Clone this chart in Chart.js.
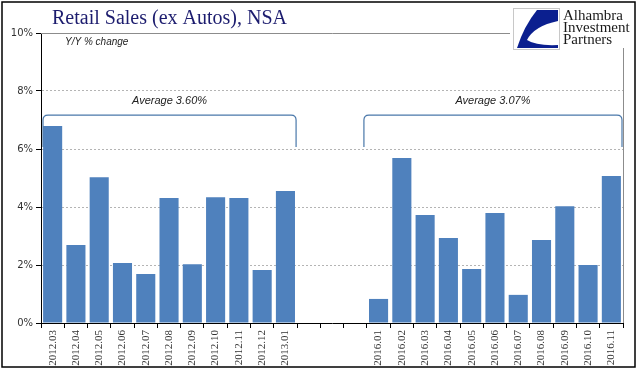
<!DOCTYPE html>
<html lang="en">
<head>
    <meta charset="UTF-8">
    <title>Retail Sales (ex Autos), NSA</title>
    <script src="https://cdn.jsdelivr.net/npm/chart.js"></script>
    <style>
        body { margin: 0; background: #fff; }
    </style>
</head>
<body>
    <canvas id="chart" width="641" height="375"></canvas>

    <script>
        const months = [
            "2012.03", "2012.04", "2012.05", "2012.06", "2012.07", "2012.08",
            "2012.09", "2012.10", "2012.11", "2012.12", "2013.01",
            "", "", "",
            "2016.01", "2016.02", "2016.03", "2016.04", "2016.05", "2016.06",
            "2016.07", "2016.08", "2016.09", "2016.10", "2016.11"
        ];
        const yoyChange = [
            6.79, 2.69, 5.03, 2.07, 1.69, 4.31, 2.03, 4.34, 4.31, 1.83, 4.55,
            null, null, null,
            0.83, 5.69, 3.72, 2.93, 1.86, 3.79, 0.97, 2.86, 4.03, 2.00, 5.07
        ];
        const yTicks = [0, 2, 4, 6, 8, 10];
        const averages = [
            { from: 0, to: 10, text: "Average 3.60%" },
            { from: 14, to: 24, text: "Average 3.07%" }
        ];

        // title, braces, logo and frame
        const decorations = {
            id: "decorations",
            afterDraw(chart) {
                const ctx = chart.ctx;
                const area = chart.chartArea;
                const x = chart.scales.x;
                const y = chart.scales.y;
                const half = (x.getPixelForValue(1) - x.getPixelForValue(0)) / 2;

                ctx.save();

                // plot frame top/right
                ctx.strokeStyle = "#8c8c8c";
                ctx.lineWidth = 1;
                ctx.beginPath();
                ctx.moveTo(area.left, area.top + 0.5);
                ctx.lineTo(area.right + 0.5, area.top + 0.5);
                ctx.lineTo(area.right + 0.5, area.bottom);
                ctx.stroke();

                // title
                ctx.fillStyle = "#1c1c6e";
                ctx.font = "20px 'Liberation Serif'";
                ctx.textBaseline = "alphabetic";
                ctx.textAlign = "left";
                ctx.fillText("Retail Sales (ex Autos), NSA", 52, 24);

                ctx.fillStyle = "#222";
                ctx.font = "italic 10px 'Liberation Sans'";
                ctx.fillText("Y/Y % change", 65, 45);

                // average braces
                ctx.strokeStyle = "#4a78aa";
                ctx.lineWidth = 1.2;
                const yTop = y.getPixelForValue(7.17);
                const yBot = y.getPixelForValue(6.07);
                averages.forEach((a, i) => {
                    const x1 = x.getPixelForValue(a.from) - half + (i === 0 ? 2 : -3);
                    const x2 = x.getPixelForValue(a.to) + half - 1;
                    const r = 5;
                    ctx.beginPath();
                    ctx.moveTo(x1, yBot);
                    ctx.lineTo(x1, yTop + r);
                    ctx.quadraticCurveTo(x1, yTop, x1 + r, yTop);
                    ctx.lineTo(x2 - r, yTop);
                    ctx.quadraticCurveTo(x2, yTop, x2, yTop + r);
                    ctx.lineTo(x2, yBot);
                    ctx.stroke();

                    ctx.fillStyle = "#222";
                    ctx.font = "italic 11px 'Liberation Sans'";
                    ctx.textAlign = "center";
                    ctx.fillText(a.text, (x1 + x2) / 2, yTop - 11);
                });

                // logo
                ctx.fillStyle = "#fff";
                ctx.fillRect(510, 4, 124, 44);
                ctx.strokeStyle = "#c8c8c8";
                ctx.lineWidth = 1;
                ctx.strokeRect(513.5, 8.5, 46, 41);
                ctx.fillStyle = "#0b1f8f";
                ctx.beginPath();
                ctx.moveTo(558, 10);
                ctx.lineTo(537, 10);
                ctx.quadraticCurveTo(524, 26, 517, 48);
                ctx.lineTo(558, 48);
                ctx.closePath();
                ctx.fill();
                ctx.fillStyle = "#fff";
                ctx.beginPath();
                ctx.moveTo(558, 21);
                ctx.quadraticCurveTo(534, 26, 527, 40);
                ctx.quadraticCurveTo(536, 46, 558, 45);
                ctx.closePath();
                ctx.fill();

                ctx.fillStyle = "#1a1a1a";
                ctx.font = "15px 'Liberation Serif'";
                ctx.textAlign = "left";
                ctx.fillText("Alhambra", 563, 20);
                ctx.fillText("Investment", 563, 32);
                ctx.fillText("Partners", 563, 44);

                // outer border
                ctx.strokeStyle = "#000";
                ctx.lineWidth = 1.5;
                ctx.strokeRect(2, 2, 633, 365);

                ctx.restore();
            }
        };

        const ctx = document.getElementById("chart").getContext("2d");

        new Chart(ctx, {
            type: "bar",
            data: {
                labels: months,
                datasets: [
                    {
                        label: "Y/Y % change",
                        data: yoyChange,
                        backgroundColor: "#4f81bd",
                        borderWidth: 0,
                        categoryPercentage: 0.82,
                        barPercentage: 1
                    }
                ]
            },
            options: {
                responsive: false,
                animation: false,
                layout: {
                    padding: { left: 0, top: 33, right: 18, bottom: 0 }
                },
                scales: {
                    x: {
                        afterFit: scale => { scale.height = 52; },
                        grid: {
                            offset: true,
                            drawOnChartArea: false,
                            drawTicks: true,
                            tickLength: 5,
                            tickColor: "#000"
                        },
                        border: { color: "#000", width: 1 },
                        ticks: {
                            autoSkip: false,
                            minRotation: 90,
                            maxRotation: 90,
                            padding: 2,
                            color: "#333",
                            font: { family: "'Liberation Serif'", size: 11 }
                        }
                    },
                    y: {
                        min: 0,
                        max: 10,
                        afterFit: scale => { scale.width = 41; },
                        afterBuildTicks: scale => {
                            scale.ticks = yTicks.map(v => ({ value: v }));
                        },
                        grid: {
                            color: c => (c.tick.value > 0 && c.tick.value < 10) ? "#b4b4b4" : "rgba(0,0,0,0)",
                            tickColor: "#000",
                            tickLength: 5,
                            lineWidth: 1
                        },
                        border: { color: "#000", width: 1, dash: [2, 2] },
                        ticks: {
                            padding: 3,
                            color: "#333",
                            font: { family: "'DejaVu Sans'", size: 10 },
                            callback: v => v + "%"
                        }
                    }
                },
                plugins: {
                    legend: { display: false },
                    tooltip: { enabled: false }
                }
            },
            plugins: [decorations]
        });
    </script>
</body>
</html>
